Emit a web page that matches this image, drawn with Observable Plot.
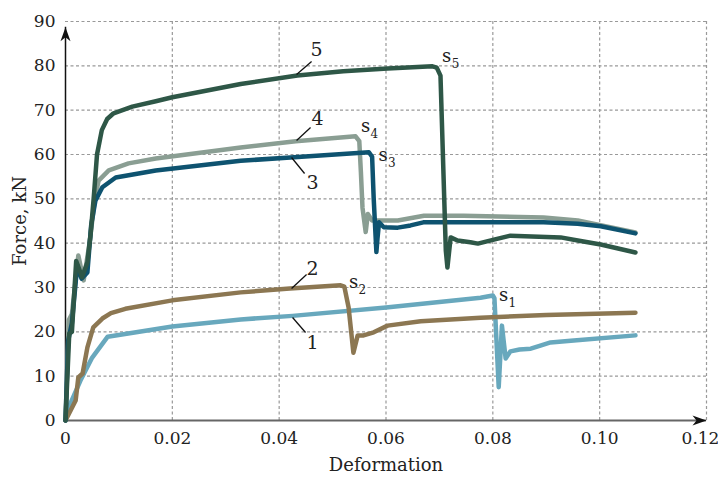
<!DOCTYPE html>
<html>
<head>
<meta charset="utf-8">
<script src="https://cdn.jsdelivr.net/npm/d3@7"></script>
<script src="https://cdn.jsdelivr.net/npm/@observablehq/plot@0.6"></script>
<style>
  html, body { margin: 0; padding: 0; background: #fff; }
</style>
</head>
<body>
<div id="chart"></div>
<script>
// ---- data (Deformation, Force kN) ----
const curve1 = [[0,0],[0.0009,3.8],[0.0028,9],[0.005,14.2],[0.0079,18.9],[0.02,21.2],[0.0328,22.8],[0.0425,23.6],[0.06,25.5],[0.0777,27.7],[0.0800,28.2],[0.0803,27.6],[0.0811,7.5],[0.0817,21.4],[0.0824,14],[0.0833,15.6],[0.0850,16.0],[0.0871,16.2],[0.0889,16.9],[0.0908,17.6],[0.0946,18.0],[0.1067,19.2]];
const curve2 = [[0,0],[0.0019,4.5],[0.0024,9.7],[0.0032,10.6],[0.0041,16.5],[0.0052,21],[0.0069,23],[0.0085,24.2],[0.0112,25.2],[0.02,27.1],[0.0328,28.9],[0.042,29.8],[0.0515,30.5],[0.0522,30.2],[0.053,25.5],[0.0539,15.3],[0.0547,19.2],[0.0558,19.2],[0.0577,19.9],[0.0603,21.4],[0.0665,22.4],[0.0777,23.2],[0.09,23.8],[0.1067,24.3]];
const curve3 = [[0,0],[0.0005,18],[0.0012,22],[0.0022,35],[0.003,32],[0.0041,33.4],[0.0048,44],[0.0056,49.6],[0.0069,52.6],[0.0094,54.8],[0.0169,56.4],[0.0328,58.6],[0.0421,59.3],[0.0568,60.5],[0.0574,59.5],[0.0577,50],[0.0582,38],[0.0584,41],[0.0587,44.7],[0.0596,43.6],[0.0622,43.5],[0.0646,44],[0.067,44.7],[0.0745,44.7],[0.0895,44.7],[0.0959,44.4],[0.1002,43.8],[0.1067,42.2]];
const curve4 = [[0,0],[0.0006,22.6],[0.0012,24],[0.0024,37.2],[0.0034,31.6],[0.0045,40],[0.0055,50],[0.0062,54.1],[0.0081,56.4],[0.0118,58],[0.0169,59.1],[0.0328,61.6],[0.0431,63],[0.0543,64.1],[0.0550,63],[0.0553,56],[0.0556,48],[0.0562,42.5],[0.0566,46.6],[0.0574,45.1],[0.059,45.1],[0.0622,45.1],[0.0671,46.2],[0.0745,46.2],[0.0895,45.8],[0.0959,45.1],[0.1067,42.4]];
const curve5 = [[0,0],[0.0007,19.6],[0.0012,20],[0.002,36],[0.0026,34],[0.0031,32.3],[0.0041,35.7],[0.0047,42],[0.0053,50.5],[0.0059,60],[0.0068,65.5],[0.0078,68],[0.009,69.3],[0.0125,70.8],[0.0169,72.0],[0.02,72.9],[0.0328,75.9],[0.0434,77.8],[0.052,78.8],[0.0603,79.4],[0.0687,79.9],[0.0695,79.6],[0.0702,77.8],[0.0712,38.3],[0.0715,34.5],[0.0721,41.3],[0.0734,40.6],[0.0758,40.2],[0.0772,39.9],[0.0802,40.8],[0.0833,41.7],[0.0927,41.3],[0.0959,40.6],[0.1002,39.7],[0.1067,37.9]];

const xTicks = [0, 0.02, 0.04, 0.06, 0.08, 0.10, 0.12];
const yTicks = [0, 10, 20, 30, 40, 50, 60, 70, 80, 90];

// curve number labels and their leader lines
const curveLabels = [
  {text: "5", x: 0.0470, y: 83.5},
  {text: "4", x: 0.0472, y: 68.1},
  {text: "3", x: 0.04625, y: 53.7},
  {text: "2", x: 0.04625, y: 34.3},
  {text: "1", x: 0.04625, y: 17.4}
];
const leaders = [
  {x1: 0.04326, y1: 78.05, x2: 0.04607, y2: 80.98},
  {x1: 0.04326, y1: 63.16, x2: 0.04588, y2: 66.1},
  {x1: 0.04232, y1: 59.33, x2: 0.04476, y2: 55.72},
  {x1: 0.04232, y1: 29.78, x2: 0.04513, y2: 32.93},
  {x1: 0.04251, y1: 23.23, x2: 0.04494, y2: 19.85}
];
// failure point labels s with subscripts
const sLabels = [
  {x: 0.07135, y: 82.1}, {x: 0.05618, y: 66.3}, {x: 0.05946, y: 59.9},
  {x: 0.05393, y: 31.1}, {x: 0.08202, y: 28.2}
];
const sSubs = [
  {text: "5", x: 0.07300, y: 80.3}, {text: "4", x: 0.05783, y: 64.5}, {text: "3", x: 0.06111, y: 58.0},
  {text: "2", x: 0.05558, y: 29.3}, {text: "1", x: 0.08367, y: 26.4}
];

const xMax = 0.12, yMax = 90, yArrowTip = 88.7;

// ---- styles ----
const colors = {c1: "#68a8bd", c2: "#8c7752", c3: "#0e5370", c4: "#8a9e93", c5: "#2e5747"};
const font = "'DejaVu Serif', 'Liberation Serif', serif";

const arrowHead = {
  draw(context) {
    context.moveTo(0, 0);
    context.lineTo(-5, 14);
    context.lineTo(0, 10);
    context.lineTo(5, 14);
    context.closePath();
  }
};

const lineOpts = (data, color) => Plot.line(data, {
  x: d => d[0], y: d => d[1], stroke: color, strokeWidth: 4.5,
  strokeLinejoin: "round", strokeLinecap: "round"
});

const fmt = d => d === 0 ? "0" : d.toFixed(2);

const chart = Plot.plot({
  width: 718,
  height: 477,
  marginLeft: 65,
  marginRight: 12,
  marginTop: 21,
  marginBottom: 57,
  style: {fontFamily: font, fontSize: "17px", color: "#222", background: "#fff"},
  x: {domain: [0, xMax]},
  y: {domain: [0, yMax]},
  marks: [
    Plot.gridX(xTicks.slice(1), {stroke: "#999", strokeOpacity: 1, strokeDasharray: "3,2.5", strokeWidth: 1.2}),
    Plot.gridY(yTicks.slice(1), {stroke: "#999", strokeOpacity: 1, strokeDasharray: "3,2.5", strokeWidth: 1.2}),
    Plot.axisX(xTicks.slice(0, -1), {tickSize: 0, tickPadding: 11, tickFormat: fmt, fontSize: 17, label: null}),
    Plot.axisX(xTicks.slice(-1), {tickSize: 0, tickPadding: 11, tickFormat: fmt, fontSize: 17, dx: -6, label: null}),
    Plot.axisX({ticks: [], tickSize: 0, fontSize: 18,
      label: "Deformation", labelAnchor: "center", labelArrow: "none", labelOffset: 50}),
    Plot.axisY(yTicks, {tickSize: 0, tickPadding: 10, fontSize: 17, label: null}),
    Plot.axisY({ticks: [], tickSize: 0, fontSize: 18,
      label: "Force, kN", labelAnchor: "center", labelArrow: "none", labelOffset: 52}),
    Plot.ruleY([0], {x1: 0, x2: xMax, stroke: "#666", strokeWidth: 2}),
    Plot.ruleX([0], {y1: 0, y2: yArrowTip, stroke: "#111", strokeWidth: 1.5}),
    Plot.dot([{x: 0, y: yArrowTip}], {x: "x", y: "y", symbol: arrowHead, fill: "#111", stroke: "none", r: 5}),
    Plot.dot([{x: xMax, y: 0}], {x: "x", y: "y", symbol: arrowHead, fill: "#111", stroke: "none", r: 5, rotate: 90}),
    lineOpts(curve1, colors.c1),
    lineOpts(curve2, colors.c2),
    lineOpts(curve4, colors.c4),
    lineOpts(curve3, colors.c3),
    lineOpts(curve5, colors.c5),
    Plot.link(leaders, {x1: "x1", y1: "y1", x2: "x2", y2: "y2", stroke: "#111", strokeWidth: 1.3}),
    Plot.text(curveLabels, {x: "x", y: "y", text: "text", fontSize: 19, fill: "#222"}),
    Plot.text(sLabels, {x: "x", y: "y", text: () => "s", fontSize: 18, fill: "#222"}),
    Plot.text(sSubs, {x: "x", y: "y", text: "text", fontSize: 12, fill: "#222"})
  ]
});
document.getElementById("chart").appendChild(chart);
</script>
</body>
</html>
